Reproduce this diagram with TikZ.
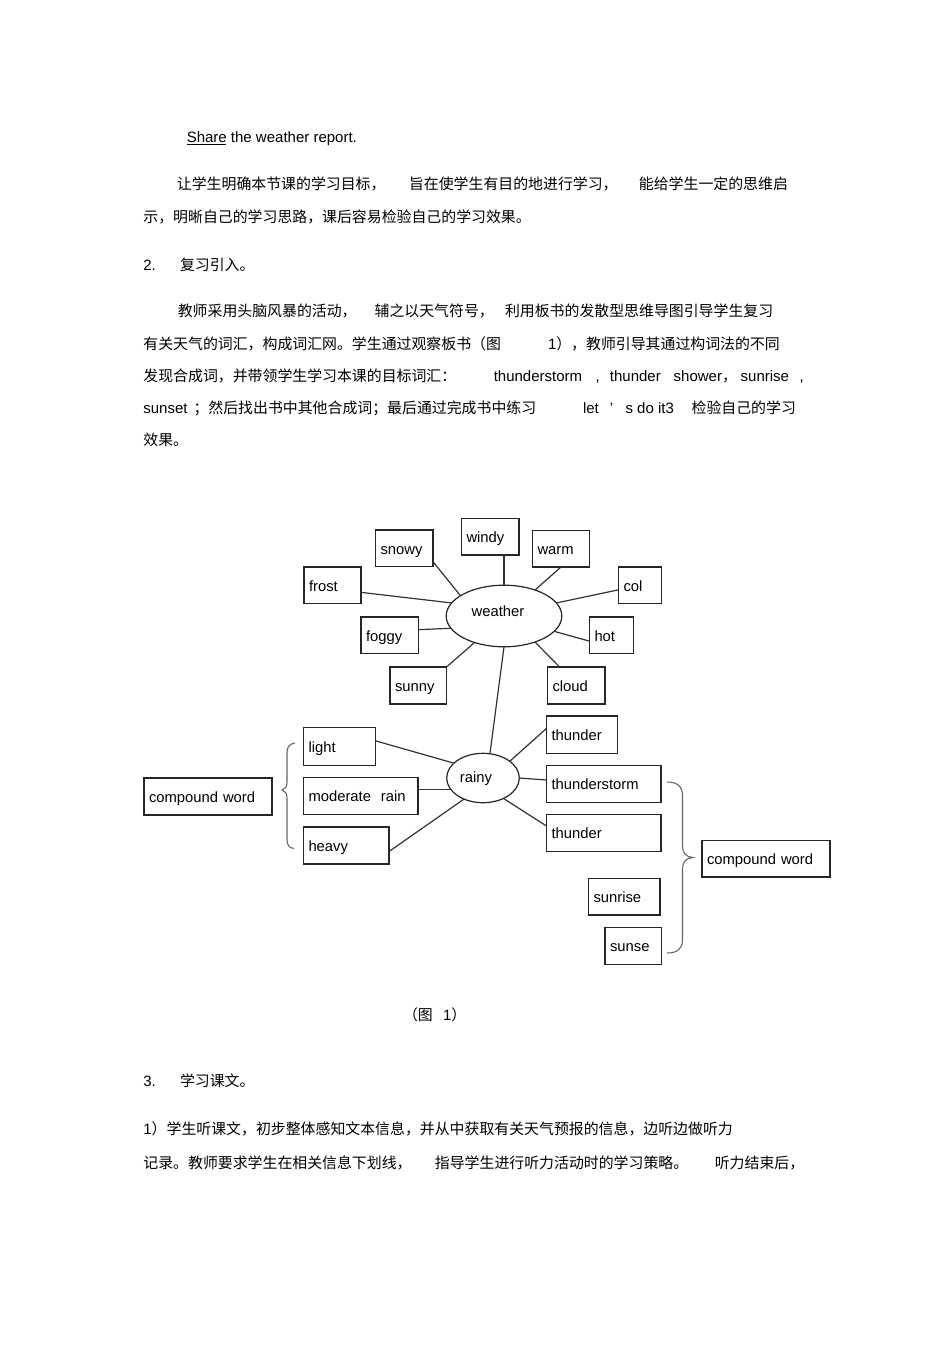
\documentclass[tikz,border=0pt]{standalone}
\usepackage{fontspec}
\setmainfont{Liberation Sans}
\newfontfamily\cjk{Noto Sans CJK SC}
\newcommand\zhtext[1]{{\fontsize{14.9}{18}\selectfont\cjk #1}}
\usetikzlibrary{shapes.geometric,calc}
\tikzset{
  txt/.style={anchor=base west, inner sep=0pt, outer sep=0pt, font=\fontsize{15}{18}\selectfont},
  box/.style={draw=black!85, line width=1.2pt, inner xsep=5pt, inner ysep=0pt, outer sep=0pt,
              anchor=north west, align=left, text height=11.5pt, text depth=0pt,
              font=\fontsize{14.8}{17}\selectfont},
  hub/.style={draw=black!85, line width=1.2pt, ellipse, inner sep=0pt, outer sep=0pt},
  lbl/.style={anchor=base, inner sep=0pt, outer sep=0pt, font=\fontsize{14.8}{17}\selectfont},
  link/.style={draw=black!80, line width=1.2pt},
  brace/.style={draw=black!60, line width=1.1pt},
}
\begin{document}
\begin{tikzpicture}[x=1pt,y=-1pt]
\fill[white] (0,0) rectangle (950,1345);
\useasboundingbox (0,0) rectangle (950,1345);

% ---------- text above ----------
\node[txt] (share) at (186.8,142) {Share the weather report.};
\draw[line width=0.9pt] (share.base west) ++(0,2.5) -- ++(39,0);

\node[txt] (l2a) at (176.9,189.7) {\zhtext{让学生明确本节课的学习目标，}};
\node[txt] (l2b) at (409,189.7) {\zhtext{旨在使学生有目的地进行学习，}};
\node[txt] (l2c) at (638.9,189.7) {\zhtext{能给学生一定的思维启}};
\node[txt] (l3) at (143.4,222.4) {\zhtext{示，明晰自己的学习思路，课后容易检验自己的学习效果。}};
\node[txt] (l4a) at (143.4,270) {2.};
\node[txt] (l4b) at (180,270) {\zhtext{复习引入。}};
\node[txt] (l5a) at (177.8,316.7) {\zhtext{教师采用头脑风暴的活动，}};
\node[txt] (l5b) at (374.6,316.7) {\zhtext{辅之以天气符号，}};
\node[txt] (l5c) at (505,316.7) {\zhtext{利用板书的发散型思维导图引导学生复习}};
\node[txt] (l6a) at (143.4,349) {\zhtext{有关天气的词汇，构成词汇网。学生通过观察板书（图}};
\node[txt] (l6b) at (548,349) {1\zhtext{），教师引导其通过构词法的不同}};
\node[txt] (l7a) at (143.4,381.7) {\zhtext{发现合成词，并带领学生学习本课的目标词汇：}};
\node[txt] (l7b) at (493.8,381.7) {thunderstorm};
\node[txt] (l7c) at (595.6,381.7) {,};
\node[txt] (l7d) at (609.9,381.7) {thunder};
\node[txt] (l7e) at (673.7,381.7) {shower};
\node[txt] (l7f) at (722,381.7) {\zhtext{，}};
\node[txt] (l7g) at (740.7,381.7) {sunrise};
\node[txt] (l7h) at (799.6,381.7) {,};
\node[txt] (l8a) at (143.4,413.4) {sunset};
\node[txt] (l8b) at (193.5,413.4) {\zhtext{；然后找出书中其他合成词；最后通过完成书中练习}};
\node[txt] (l8c) at (583,413.4) {let};
\node[txt] (l8d) at (609.9,413.4) {’};
\node[txt] (l8e) at (625.5,413.4) {s do it3};
\node[txt] (l8f) at (691.6,413.4) {\zhtext{检验自己的学习}};
\node[txt] (l9) at (143.4,445.7) {\zhtext{效果。}};

% ---------- diagram ----------
\node[hub, minimum width=115.6pt, minimum height=61.6pt] (weather) at (504,616) {};
\node[lbl] (weatherlbl) at (498,616) {weather};
\node[hub, minimum width=72.6pt, minimum height=49.4pt] (rainy) at (483,778) {};
\node[lbl] (rainylbl) at (476,782.5) {rainy};

\node[box, text width=47.5pt, minimum height=36.5pt] (snowy) at (375.5,530) {snowy};
\node[box, text width=47.5pt, minimum height=36.5pt] (windy) at (461.5,518.5) {windy};
\node[box, text width=47pt, minimum height=36.5pt] (warm) at (532.5,530.5) {warm};
\node[box, text width=47pt, minimum height=36.5pt] (frost) at (304,567) {frost};
\node[box, text width=33pt, minimum height=36.5pt] (col) at (618.5,567) {col};
\node[box, text width=47.5pt, minimum height=36.5pt] (foggy) at (361,617) {foggy};
\node[box, text width=34pt, minimum height=36.5pt] (hot) at (589.5,617) {hot};
\node[box, text width=46.5pt, minimum height=37pt] (sunny) at (390,667) {sunny};
\node[box, text width=47.5pt, minimum height=37pt] (cloud) at (547.5,667) {cloud};
\node[box, text width=61pt, minimum height=37.3pt] (thunderA) at (546.5,716) {thunder};
\node[box, text width=62pt, minimum height=38pt] (light) at (303.5,727.5) {light};
\node[box, text width=104.5pt, minimum height=37pt] (modrain) at (303.5,777.5) {moderate~~rain};
\node[box, text width=75.5pt, minimum height=37pt] (heavy) at (303.5,827) {heavy};
\node[box, text width=118pt, minimum height=37pt] (compL) at (144,778) {compound word};
\node[box, text width=104.5pt, minimum height=37pt] (storm) at (546.5,765.5) {thunderstorm};
\node[box, text width=104.5pt, minimum height=37pt] (thunderB) at (546.5,814.5) {thunder};
\node[box, text width=118pt, minimum height=36.5pt] (compR) at (702,840.5) {compound word};
\node[box, text width=61.5pt, minimum height=36.5pt] (sunrise) at (588.5,878.5) {sunrise};
\node[box, text width=46.5pt, minimum height=37pt] (sunse) at (605,927.5) {sunse};

% connectors
\draw[link] (snowy.-25) -- (weather.155);
\draw[link] (weather.north) -- (weather.north |- windy.south);
\draw[link] (warm.south) -- (weather.40);
\draw[link] (frost.-14.6) -- (weather.166.5);
\draw[link] (col.192.5) -- (weather.14);
\draw[link] (foggy.11.7) -- (weather.-167);
\draw[link] (hot.195) -- (weather.-17.3);
\draw[link] (sunny.north east) -- (weather.-138);
\draw[link] (cloud.132.6) -- (weather.-40.7);
\draw[link] (weather.south) -- (rainy.74);
\draw[link] (light.9.2) -- (rainy.153.4);
\draw[link] (rainy.199.3) -- (rainy.199.3 -| modrain.east);
\draw[link] (heavy.-8.2) -- (rainy.-132.8);
\draw[link] (thunderA.170) -- (rainy.32.8);
\draw[link] (storm.176) -- (rainy.0);
\draw[link] (thunderB.173.7) -- (rainy.-45.5);

% braces
\draw[brace] (295,743) .. controls (289,744) and (287,747) .. (287,753) -- (287,782)
  .. controls (287,787) and (285,789) .. (282,790)
  .. controls (285,791) and (287,793) .. (287,798) -- (287,839)
  .. controls (287,845) and (289,848) .. (294,848.5);
\draw[brace] (667,782) .. controls (677,782) and (682.5,786) .. (682.5,796) -- (682.5,846)
  .. controls (682.5,853) and (686,857) .. (693,857.5)
  .. controls (686,858) and (682.5,862) .. (682.5,869) -- (682.5,940)
  .. controls (682.5,949) and (677,953) .. (667,953);

% ---------- text below ----------
\node[txt] (cap1) at (403,1020.7) {\zhtext{（图}};
\node[txt] (cap2) at (443,1020.7) {1\zhtext{）}};
\node[txt] (l10a) at (143.4,1086.7) {3.};
\node[txt] (l10b) at (180,1086.7) {\zhtext{学习课文。}};
\node[txt] (l11) at (143.4,1134) {1\zhtext{）学生听课文，初步整体感知文本信息，并从中获取有关天气预报的信息，边听边做听力}};
\node[txt] (l12a) at (143.4,1168) {\zhtext{记录。教师要求学生在相关信息下划线，}};
\node[txt] (l12b) at (434.9,1168) {\zhtext{指导学生进行听力活动时的学习策略。}};
\node[txt] (l12c) at (714.8,1168) {\zhtext{听力结束后，}};
\end{tikzpicture}
\end{document}
